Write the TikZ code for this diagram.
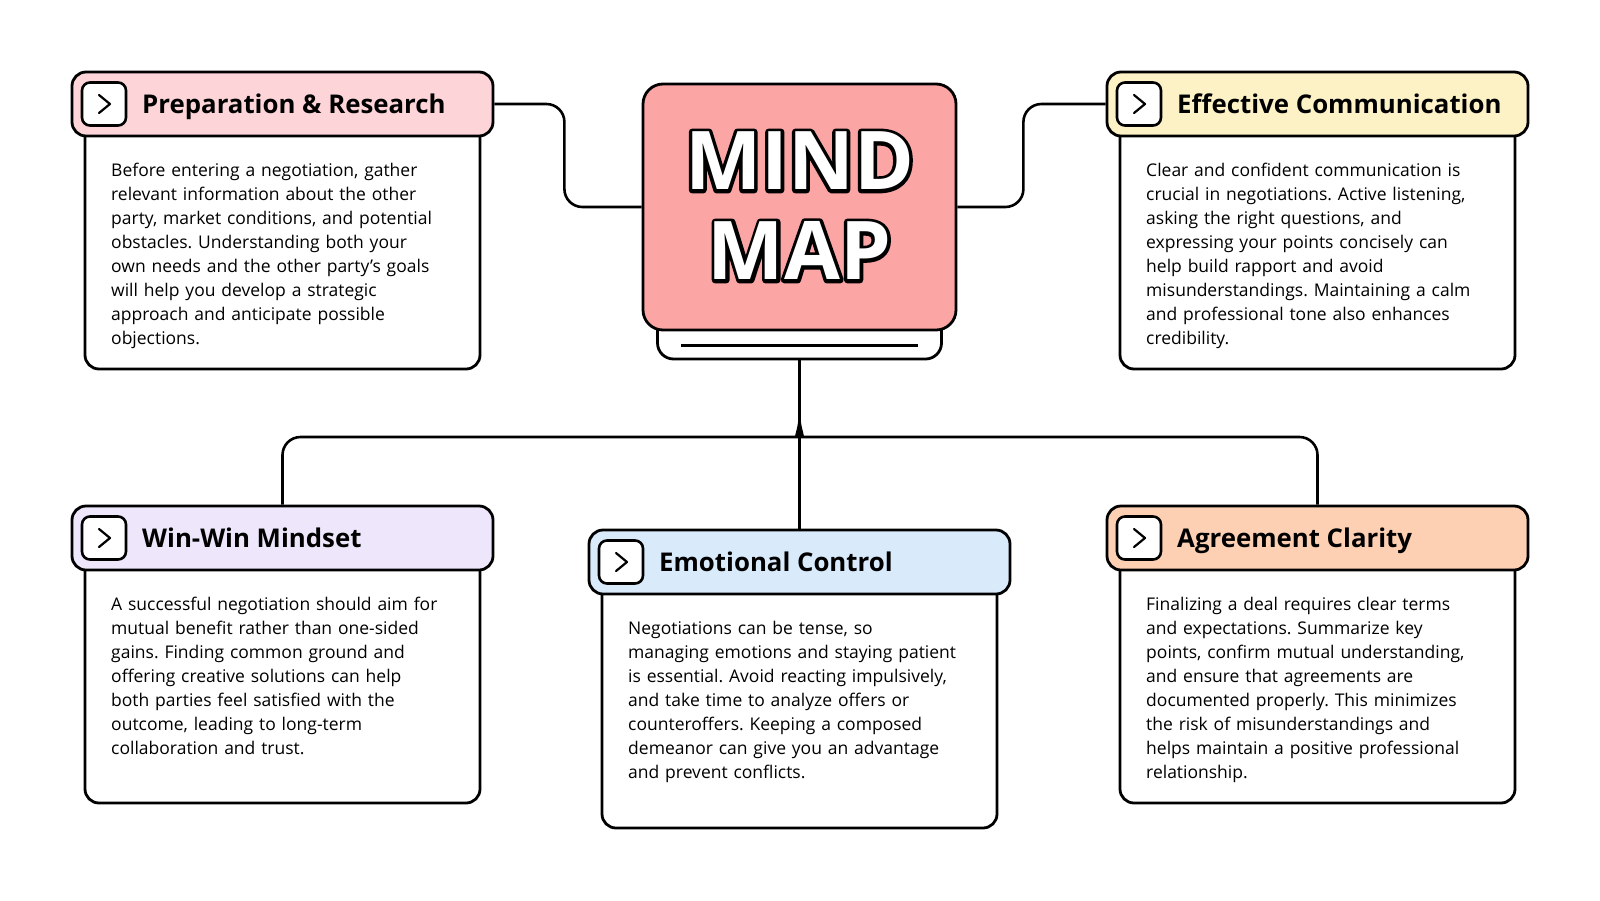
\documentclass[tikz,border=0pt]{standalone}
\usepackage{fontspec}
\setmainfont{Open Sans}
\usetikzlibrary{calc}
\definecolor{pinkT}{HTML}{FDD5D8}
\definecolor{yellowT}{HTML}{FDF2C6}
\definecolor{lavT}{HTML}{EEE7FB}
\definecolor{blueT}{HTML}{D9EAFB}
\definecolor{peachT}{HTML}{FDD0B3}
\definecolor{mmC}{HTML}{FCA5A5}
\newcommand\mmcard[7]{%
  \pgfmathsetmacro\cx{#2+210.5}%
  \pgfmathsetmacro\cy{#3+32}%
  \pgfmathsetmacro\bh{#6-#3-48}%
  \pgfmathsetmacro\by{(#3+48+#6)/2}%
  \node[bodybox, minimum width=395, minimum height=\bh] (#1b) at (\cx,\by) {};
  \node[ttlbox, fill=#4, minimum width=421, minimum height=64] (#1) at (\cx,\cy) {};
  \node[iconbox] (#1i) at ({#2+32},{#3+32}) {};
  \draw[chev] ($(#1i.center)+(-5,-9)$) -- ++(11,9) -- ++(-11,9);
  \node[ttltxt] (#1l) at ({#2+70},{#3+41}) {#5};
  \node[bodytxt] (#1t) at ({#2+39},{#3+104}) {#7};
}
\newcommand\outl[1]{\rlap{\color{black}\special{pdf:literal direct 0 0 0 RG 1 j 7 w 2 Tr}#1\special{pdf:literal direct 0 Tr}}#1}
\begin{document}
\begin{tikzpicture}[x=1pt,y=-1pt,
  bodybox/.style={draw=black, fill=white, line width=2.8, rounded corners=14, inner sep=0},
  ttlbox/.style={draw=black, line width=2.8, rounded corners=14, inner sep=0},
  iconbox/.style={draw=black, fill=white, line width=2.6, rounded corners=8, minimum width=44, minimum height=43, inner sep=0},
  chev/.style={line width=2.2, line cap=round, line join=round},
  ttltxt/.style={anchor=base west, inner sep=0, font=\fontsize{25.8}{30}\bfseries\selectfont},
  bodytxt/.style={anchor=base west, inner sep=0, text width=400, align=left, font=\fontsize{17.5}{24}\selectfont\frenchspacing},
  conn/.style={line width=2.6, rounded corners=18},
  mmtxt/.style={inner sep=0, align=center, text=white, font=\fontsize{81}{90}\bfseries\selectfont}
]
\fill[white] (0,0) rectangle (1600,900);
\useasboundingbox (0,0) rectangle (1600,900);

% connector junction points
\coordinate (j0) at (799.5,419);
\coordinate (jl) at (779,437);
\coordinate (jr) at (820,437);

% mind map centre
\node[draw=black, fill=white, line width=2.8, rounded corners=16, inner sep=0, minimum width=284, minimum height=50] (mb) at (799.5,334) {};
\draw[line width=2.4] ($(mb.south west)+(25,-15)$) -- ($(mb.south east)+(-25,-15)$);
\node[draw=black, fill=mmC, line width=2.8, rounded corners=20, inner sep=0, minimum width=313, minimum height=246] (mm) at (799.5,207) {};
\node[mmtxt] (mmt) at (799.5,206) {\outl{MIND}\\\outl{MAP}};

\mmcard{prep}{72}{72}{pinkT}{Preparation \& Research}{369}{Before entering a negotiation, gather\\relevant information about the other\\party, market conditions, and potential\\obstacles. Understanding both your\\own needs and the other party's goals\\will help you develop a strategic\\approach and anticipate possible\\objections.}
\mmcard{eff}{1107}{72}{yellowT}{Effective Communication}{369}{Clear and confident communication is\\crucial in negotiations. Active listening,\\asking the right questions, and\\expressing your points concisely can\\help build rapport and avoid\\misunderstandings. Maintaining a calm\\and professional tone also enhances\\credibility.}
\mmcard{win}{72}{506}{lavT}{Win-Win Mindset}{803}{A successful negotiation should aim for\\mutual benefit rather than one-sided\\gains. Finding common ground and\\offering creative solutions can help\\both parties feel satisfied with the\\outcome, leading to long-term\\collaboration and trust.}
\mmcard{emo}{589}{530}{blueT}{Emotional Control}{828}{Negotiations can be tense, so\\managing emotions and staying patient\\is essential. Avoid reacting impulsively,\\and take time to analyze offers or\\counteroffers. Keeping a composed\\demeanor can give you an advantage\\and prevent conflicts.}
\mmcard{agr}{1107}{506}{peachT}{Agreement Clarity}{803}{Finalizing a deal requires clear terms\\and expectations. Summarize key\\points, confirm mutual understanding,\\and ensure that agreements are\\documented properly. This minimizes\\the risk of misunderstandings and\\helps maintain a positive professional\\relationship.}

\draw[conn] (prep.east) -- ++(70,0) |- (mm.west);
\draw[conn] (mm.east) -- ++(66,0) |- (eff.west);
\draw[line width=2.6] (mb.south) -- (emo.north);
\draw[conn] (win.north) |- (jl) .. controls +(16,0) and +(0,9) .. (j0);
\draw[conn] (agr.north) |- (jr) .. controls +(-16,0) and +(0,9) .. (j0);
\end{tikzpicture}
\end{document}
